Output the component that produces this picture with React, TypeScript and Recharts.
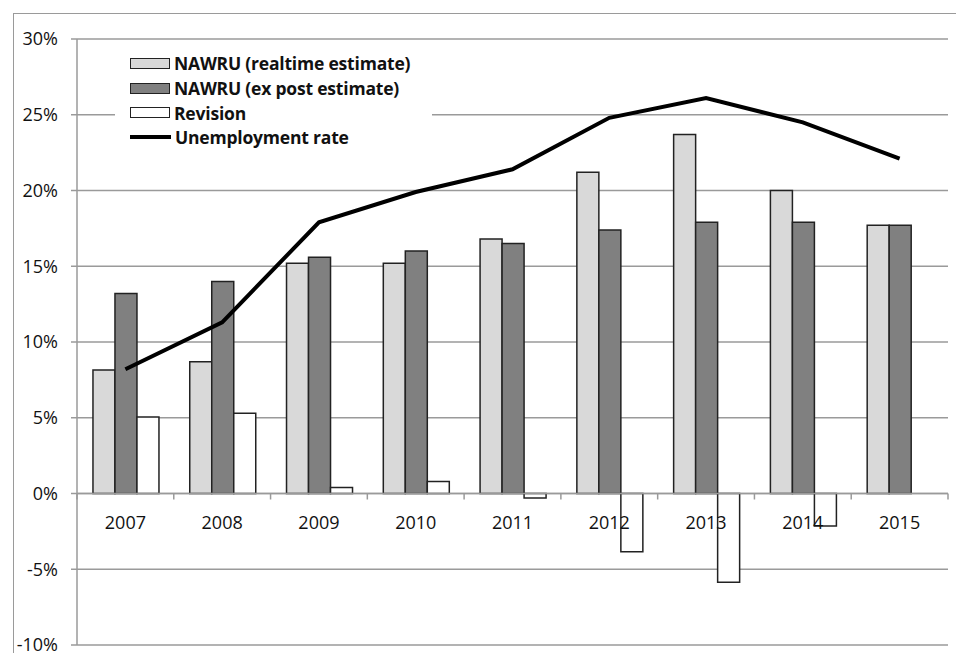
import { Bar, ComposedChart, Line, XAxis, YAxis, CartesianGrid, ReferenceLine, Legend } from "recharts"

const years = ["2007", "2008", "2009", "2010", "2011", "2012", "2013", "2014", "2015"]
const realtime = [8.15, 8.7, 15.2, 15.2, 16.8, 21.2, 23.7, 20.0, 17.7]
const expost = [13.2, 14.0, 15.6, 16.0, 16.5, 17.4, 17.9, 17.9, 17.7]
const revision = [5.05, 5.3, 0.4, 0.8, -0.3, -3.85, -5.85, -2.15, 0]
const unemployment = [8.2, 11.3, 17.9, 19.9, 21.4, 24.8, 26.1, 24.5, 22.1]
const yTicks = [-10, -5, 0, 5, 10, 15, 20, 25, 30]

const W = 956
const H = 653
const M = { top: 39, right: 8, bottom: 0, left: 0 }
const Y_AXIS_W = 77
const X_AXIS_H = 8
const PLOT_W = W - M.left - M.right - Y_AXIS_W
const PLOT_H = H - M.top - M.bottom - X_AXIS_H
const Y_MIN = -10
const Y_MAX = 30
// distance from plot bottom up to the 0% line
const ZERO_OFFSET = (PLOT_H * (0 - Y_MIN)) / (Y_MAX - Y_MIN)
const BAND = PLOT_W / years.length

const GRID = "#9a9a9a"
const FONT = "'Open Sans', sans-serif"
const TEXT = "#111"

const data = years.map((year, i) => ({
  year,
  realtime: realtime[i],
  expost: expost[i],
  revision: revision[i],
  unemployment: unemployment[i],
}))

const legendItems = [
  { label: "NAWRU (realtime estimate)", kind: "bar", fill: "#d9d9d9" },
  { label: "NAWRU (ex post estimate)", kind: "bar", fill: "#808080" },
  { label: "Revision", kind: "bar", fill: "#ffffff" },
  { label: "Unemployment rate", kind: "line", fill: "#000" },
]

function LegendBox() {
  return (
    <div style={{ background: "#fff", padding: "6px 0 4px 15px", fontFamily: FONT }}>
      {legendItems.map((it) => (
        <div key={it.label} style={{ display: "flex", alignItems: "center", height: 24.7 }}>
          {it.kind === "bar" ? (
            <div style={{ width: 38, height: 9, background: it.fill, border: "1.5px solid #222" }} />
          ) : (
            <div style={{ width: 41, height: 4, background: "#000" }} />
          )}
          <span style={{ marginLeft: 4, fontWeight: 700, fontSize: 17.5, color: TEXT, letterSpacing: -0.2 }}>{it.label}</span>
        </div>
      ))}
    </div>
  )
}

function YearTick(props: any) {
  const { x, y, payload, index } = props
  const zy = y - ZERO_OFFSET
  return (
    <g>
      {index === 0 && <line x1={x - BAND / 2} x2={x - BAND / 2} y1={zy} y2={zy + 6} stroke={GRID} strokeWidth={1.5} />}
      <line x1={x + BAND / 2} x2={x + BAND / 2} y1={zy} y2={zy + 6} stroke={GRID} strokeWidth={1.5} />
      <text x={x} y={zy + 35} textAnchor="middle" fontFamily={FONT} fontSize={18} fill={TEXT}>
        {payload.value}
      </text>
    </g>
  )
}

export default function App() {
  return (
    <div style={{ position: "absolute", left: 0, top: 0, width: W, height: H, overflow: "hidden", background: "#fff" }}>
      <div
        style={{
          position: "absolute",
          left: 13,
          top: 13,
          width: W,
          height: H,
          borderLeft: `1.5px solid ${GRID}`,
          borderTop: `1.5px solid ${GRID}`,
        }}
      />
      <div style={{ position: "absolute", left: 0, top: 0 }}>
        <ComposedChart width={W} height={H} data={data} margin={M} barCategoryGap="16.5%" barGap={0}>
          <CartesianGrid vertical={false} stroke={GRID} strokeWidth={1.5} strokeDasharray="0" />
          <XAxis
            dataKey="year"
            height={X_AXIS_H}
            axisLine={false}
            tickLine={false}
            tickSize={0}
            tickMargin={0}
            interval={0}
            tick={<YearTick />}
          />
          <YAxis
            width={Y_AXIS_W}
            domain={[Y_MIN, Y_MAX]}
            ticks={yTicks}
            interval={0}
            tickFormatter={(v) => `${v}%`}
            axisLine={{ stroke: GRID, strokeWidth: 1.5 }}
            tickLine={{ stroke: GRID, strokeWidth: 1.5 }}
            tickSize={6}
            tickMargin={13}
            tick={{ fontFamily: FONT, fontSize: 18, fill: TEXT }}
            allowDataOverflow
          />
          <ReferenceLine y={0} stroke={GRID} strokeWidth={1.5} />
          <Legend
            layout="horizontal"
            verticalAlign="middle"
            align="center"
            content={<LegendBox />}
            wrapperStyle={{ left: 115, top: 45, width: 317 }}
          />
          <Bar dataKey="realtime" fill="#d9d9d9" stroke="#222" strokeWidth={1.5} isAnimationActive={false} />
          <Bar dataKey="expost" fill="#808080" stroke="#222" strokeWidth={1.5} isAnimationActive={false} />
          <Bar dataKey="revision" fill="#ffffff" stroke="#222" strokeWidth={1.5} isAnimationActive={false} />
          <Line
            dataKey="unemployment"
            stroke="#000"
            strokeWidth={4}
            dot={false}
            type="linear"
            isAnimationActive={false}
          />
        </ComposedChart>
      </div>
    </div>
  )
}
